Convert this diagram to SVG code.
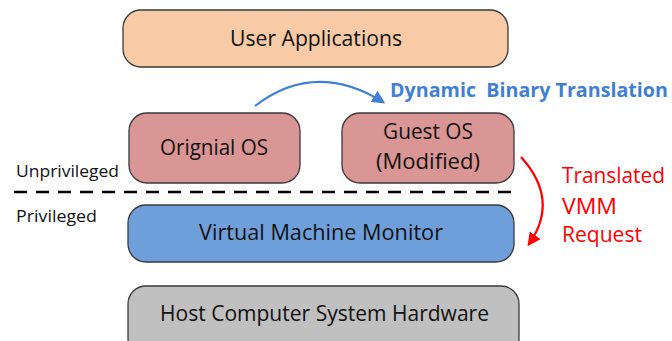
<svg xmlns="http://www.w3.org/2000/svg" width="672" height="341" viewBox="0 0 672 341">
<defs>
<style>
.box{stroke:#3a3a3a;stroke-width:1.3}
.lbl{font-family:"Open Sans","Liberation Sans",Arial,sans-serif;font-size:21px;fill:#111;text-anchor:middle}
.side{font-family:"Open Sans","Liberation Sans",Arial,sans-serif;font-size:16.5px;fill:#111}
.red{font-family:"Open Sans","Liberation Sans",Arial,sans-serif;font-size:21.5px;fill:#ff0000}
.blue{font-family:"Open Sans","Liberation Sans",Arial,sans-serif;font-size:19.5px;font-weight:bold;fill:#3f7fd4;white-space:pre}
</style>
<marker id="ab" viewBox="0 0 10 10" refX="8" refY="5" markerWidth="6" markerHeight="6" orient="auto"><path d="M0,0 L10,5 L0,10 z" fill="#3f7fd4"/></marker>
<marker id="ar" viewBox="0 0 10 10" refX="8" refY="5" markerWidth="6" markerHeight="6" orient="auto"><path d="M0,0 L10,5 L0,10 z" fill="#ff0000"/></marker>
</defs>
<rect width="672" height="341" fill="#fff"/>
<g id="user-apps"><rect class="box" x="123" y="10" width="385" height="57" rx="18" fill="#f8cba6"/><text class="lbl" x="316" y="46" textLength="172" lengthAdjust="spacingAndGlyphs">User Applications</text></g>
<g id="original-os"><rect class="box" x="129" y="113" width="171" height="70" rx="18" fill="#d99694"/><text class="lbl" x="214" y="155" textLength="108" lengthAdjust="spacingAndGlyphs">Orignial OS</text></g>
<g id="guest-os"><rect class="box" x="342" y="113" width="172" height="70" rx="18" fill="#d99694"/><text class="lbl" x="428" y="139" textLength="90" lengthAdjust="spacingAndGlyphs">Guest OS</text><text class="lbl" x="428" y="169" textLength="104" lengthAdjust="spacingAndGlyphs">(Modified)</text></g>
<g id="vmm"><rect class="box" x="128" y="205" width="386" height="57" rx="18" fill="#6f9fdb"/><text class="lbl" x="321" y="240" textLength="244" lengthAdjust="spacingAndGlyphs">Virtual Machine Monitor</text></g>
<g id="host"><rect class="box" x="128" y="286" width="391" height="70" rx="18" fill="#c0c0c0"/><text class="lbl" x="324.5" y="321" textLength="329" lengthAdjust="spacingAndGlyphs">Host Computer System Hardware</text></g>
<g id="labels">
<text class="side" x="16" y="177" textLength="103" lengthAdjust="spacingAndGlyphs">Unprivileged</text>
<text class="side" x="16" y="222" textLength="81" lengthAdjust="spacingAndGlyphs">Privileged</text>
<text class="blue" x="390" y="97" textLength="278" lengthAdjust="spacingAndGlyphs" xml:space="preserve">Dynamic  Binary Translation</text>
<text class="red" x="562" y="183" textLength="103" lengthAdjust="spacingAndGlyphs">Translated</text>
<text class="red" x="562" y="214" textLength="55" lengthAdjust="spacingAndGlyphs">VMM</text>
<text class="red" x="562" y="242" textLength="80" lengthAdjust="spacingAndGlyphs">Request</text>
</g>
<g id="connectors">
<line x1="14" y1="192" x2="520" y2="192" stroke="#000" stroke-width="2.5" stroke-dasharray="13,9"/>
<path d="M255,106 Q315,60 383,102" fill="none" stroke="#3f7fd4" stroke-width="2.2" marker-end="url(#ab)"/>
<path d="M521,157 Q560,200 529,244" fill="none" stroke="#ff0000" stroke-width="2.2" marker-end="url(#ar)"/>
</g>
</svg>
